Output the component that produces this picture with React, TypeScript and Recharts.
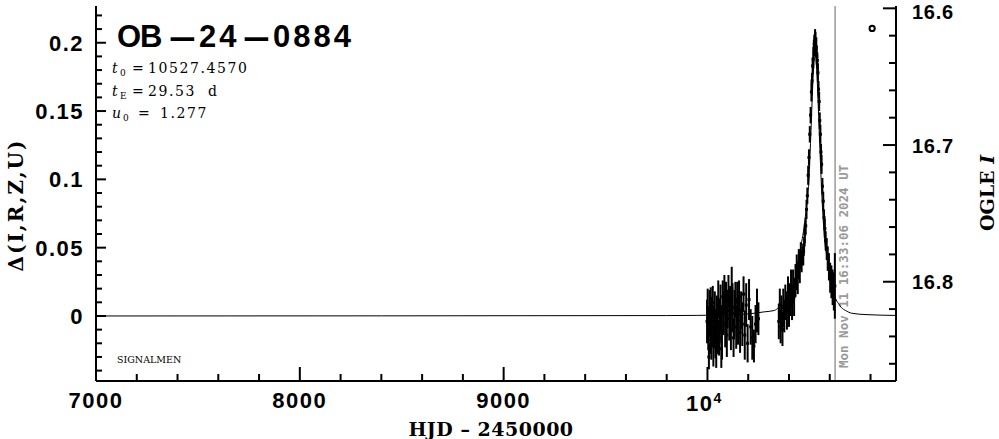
import React from 'react';
import { ComposedChart, Line, Scatter, ErrorBar, XAxis, YAxis, ReferenceLine } from 'recharts';

// ---------- axis ticks ----------
const xTicks = [7000, 7200, 7400, 7600, 7800, 8000, 8200, 8400, 8600, 8800, 9000, 9200, 9400, 9600, 9800, 10000, 10200, 10400, 10600, 10800];
const leftTicks = [-0.04, -0.03, -0.02, -0.01, 0, 0.01, 0.02, 0.03, 0.04, 0.05, 0.06, 0.07, 0.08, 0.09, 0.1, 0.11, 0.12, 0.13, 0.14, 0.15, 0.16, 0.17, 0.18, 0.19, 0.2, 0.21, 0.22];
const leftLabels: Record<string, string> = { '0': '0', '0.05': '0.05', '0.1': '0.1', '0.15': '0.15', '0.2': '0.2' };
const rightTicks = [16.6, 16.62, 16.64, 16.66, 16.68, 16.7, 16.72, 16.74, 16.76, 16.78, 16.8, 16.82, 16.84, 16.86];
const rightLabels: Record<string, string> = { '16.6': '16.6', '16.7': '16.7', '16.8': '16.8' };
const bottomLabels: Record<string, string> = { '7000': '7000', '8000': '8000', '9000': '9000' };

// ---------- model curve ----------
const modelT = [7000, 9800, 10100, 10128, 10200, 10278, 10328, 10348, 10378, 10398, 10418, 10428, 10438, 10448, 10458, 10468, 10478, 10483, 10488, 10493, 10498, 10503, 10508, 10513, 10518, 10523, 10528, 10533, 10538, 10543, 10548, 10553, 10558, 10563, 10568, 10573, 10578, 10588, 10598, 10608, 10618, 10628, 10643, 10658, 10678, 10708, 10778, 10925];
const modelD = [0, 0.0003, 0.0008, 0.001, 0.0015, 0.003, 0.004, 0.006, 0.009, 0.013, 0.018, 0.024, 0.032, 0.043, 0.051, 0.059, 0.07, 0.076, 0.083, 0.09, 0.099, 0.117, 0.136, 0.156, 0.174, 0.188, 0.2, 0.188, 0.174, 0.156, 0.136, 0.117, 0.099, 0.083, 0.07, 0.059, 0.051, 0.043, 0.032, 0.024, 0.018, 0.013, 0.009, 0.006, 0.004, 0.002, 0.001, 0.0004];

// ---------- photometry ----------
const obsT = [
  9998, 10001, 10004, 10007, 10010, 10013, 10016, 10019, 10022, 10026, 10029, 10032, 10036, 10039, 10043, 10046, 10050, 10053, 10057, 10060,
  10064, 10068, 10071, 10075, 10079, 10083, 10087, 10091, 10095, 10099, 10103, 10107, 10111, 10115, 10119, 10123, 10128, 10132, 10137, 10141,
  10146, 10150, 10155, 10160, 10165, 10171, 10177, 10183, 10190, 10197, 10204, 10212, 10220, 10228, 10236, 10243, 10250,
  10350, 10355, 10359, 10363, 10368, 10372, 10377, 10382, 10390, 10395, 10400, 10405, 10410, 10415, 10420, 10425, 10432, 10438, 10443, 10448, 10453, 10458,
  10462, 10466, 10470, 10474, 10478, 10482, 10486, 10490, 10494, 10498, 10502, 10506, 10510, 10513, 10516, 10519, 10522, 10524, 10526, 10528,
  10530, 10532, 10534, 10536, 10539, 10542, 10545, 10548, 10551, 10554, 10557, 10560, 10564, 10568, 10572, 10576, 10580, 10585, 10590, 10596,
  10602, 10608, 10614, 10620, 10625,
];
const obsD = [
  -0.004, 0.006, -0.01, -0.03, 0.002, -0.012, 0.008, -0.018, -0.004, 0.01, -0.022, -0.008, 0.004, -0.014, -0.026, 0.0, -0.01, 0.012, -0.016, -0.004,
  0.006, -0.024, -0.012, 0.014, 0.002, 0.016, -0.006, 0.01, -0.014, 0.004, 0.018, -0.002, 0.008, -0.01, 0.02, 0.006, -0.016, 0.002, 0.012, -0.008,
  0.01, -0.004, 0.014, -0.012, 0.004, -0.006, 0.016, -0.014, 0.008, -0.02, 0.012, -0.008, -0.016, -0.022, -0.006, 0.004, -0.002,
  -0.004, 0.008, -0.008, 0.002, -0.01, 0.006, 0.0, 0.01, 0.004, 0.016, 0.006, 0.012, 0.02, 0.01, 0.022, 0.014, 0.026, 0.032, 0.028, 0.038, 0.036, 0.044,
  0.04, 0.044, 0.045, 0.052, 0.06, 0.066, 0.078, 0.088, 0.103, 0.116, 0.133, 0.147, 0.164, 0.172, 0.183, 0.188, 0.196, 0.199, 0.197, 0.202,
  0.201, 0.196, 0.197, 0.19, 0.187, 0.178, 0.166, 0.157, 0.143, 0.133, 0.12, 0.111, 0.095, 0.084, 0.072, 0.064, 0.055, 0.049, 0.042, 0.036,
  0.028, 0.025, 0.021, 0.018, 0.022,
];
const obsE = [
  0.016, 0.014, 0.015, 0.009, 0.017, 0.016, 0.013, 0.014, 0.018, 0.012, 0.015, 0.016, 0.014, 0.017, 0.012, 0.015, 0.018, 0.014, 0.013, 0.016,
  0.017, 0.014, 0.02, 0.012, 0.016, 0.014, 0.017, 0.015, 0.016, 0.013, 0.012, 0.016, 0.014, 0.015, 0.016, 0.018, 0.014, 0.017, 0.013, 0.016,
  0.015, 0.017, 0.012, 0.015, 0.014, 0.016, 0.013, 0.018, 0.016, 0.014, 0.015, 0.013, 0.016, 0.012, 0.014, 0.016, 0.012,
  0.013, 0.012, 0.012, 0.013, 0.012, 0.014, 0.012, 0.013, 0.014, 0.013, 0.014, 0.012, 0.014, 0.013, 0.012, 0.014, 0.012, 0.013, 0.012, 0.011, 0.012, 0.01,
  0.008, 0.007, 0.008, 0.006, 0.007, 0.006, 0.007, 0.006, 0.007, 0.006, 0.006, 0.006, 0.007, 0.006, 0.006, 0.007, 0.006, 0.007, 0.006, 0.008,
  0.007, 0.006, 0.007, 0.006, 0.006, 0.007, 0.006, 0.007, 0.006, 0.007, 0.006, 0.007, 0.006, 0.007, 0.006, 0.007, 0.007, 0.008, 0.009, 0.01,
  0.011, 0.012, 0.013, 0.014, 0.024,
];

// legend-like marker in the upper right corner
const markerT = [10808];
const markerD = [0.2105];

// time of this plot
const nowT = 10626.19;
const nowLabel = 'Mon Nov 11 16:33:06 2024 UT';

const modelData = modelT.map((t, i) => ({ t, d: modelD[i] }));
const obsData = obsT.map((t, i) => ({ t, v: obsD[i], e: obsE[i] }));
const markerData = markerT.map((t, i) => ({ t, m: markerD[i] }));

const TICK_FONT = "'Liberation Sans', Arial, sans-serif";
const SERIF = "'DejaVu Serif', serif";

const key = (v: number) => String(Math.round(v * 1000) / 1000);

const BottomTick = (p: any) => {
  const { x, y, payload } = p;
  const v = payload.value;
  const major = Math.abs(v % 1000) < 1e-6;
  return (
    <g>
      <line x1={x} x2={x} y1={y} y2={y - (major ? 14 : 7)} stroke="#000" strokeWidth={2} />
      {bottomLabels[key(v)] && (
        <text x={x} y={y + 27} textAnchor="middle" fontFamily={TICK_FONT} fontWeight="bold" fontSize={22} letterSpacing={1.5} fill="#000">
          {bottomLabels[key(v)]}
        </text>
      )}
      {v === 10000 && (
        <text x={x - 3} y={y + 30} textAnchor="middle" fontFamily={TICK_FONT} fontWeight="bold" fontSize={22} letterSpacing={1.5} fill="#000">
          10<tspan fontSize={14} dy={-8}>4</tspan>
        </text>
      )}
    </g>
  );
};

const TopTick = (p: any) => {
  const { x, y, payload } = p;
  const major = Math.abs(payload.value % 1000) < 1e-6;
  return <line x1={x} x2={x} y1={y} y2={y + (major ? 13 : 8)} stroke="#000" strokeWidth={2} />;
};

const LeftTick = (p: any) => {
  const { x, y, payload } = p;
  const lab = leftLabels[key(payload.value)];
  return (
    <g>
      <line x1={x} x2={x + (lab ? 10 : 6)} y1={y} y2={y} stroke="#000" strokeWidth={2} />
      {lab && (
        <text x={x - 12} y={y + 8} textAnchor="end" fontFamily={TICK_FONT} fontWeight="bold" fontSize={22} letterSpacing={1.5} fill="#000">
          {lab}
        </text>
      )}
    </g>
  );
};

const RightTick = (p: any) => {
  const { x, y, payload } = p;
  const k = key(payload.value);
  const lab = rightLabels[k];
  const off = k === '16.6' ? 10.5 : 7.5;
  return (
    <g>
      <line x1={x} x2={x - (lab ? 13 : 7)} y1={y} y2={y} stroke="#000" strokeWidth={2} />
      {lab && (
        <text x={x + 16} y={y + off} textAnchor="start" fontFamily={TICK_FONT} fontWeight="bold" fontSize={20} letterSpacing={0.7} fill="#000">
          {lab}
        </text>
      )}
    </g>
  );
};

const PointShape = (p: any) => {
  const { cx, cy } = p;
  if (cx == null || cy == null) return null;
  return <rect x={cx - 1.5} y={cy - 1.5} width={3} height={3} fill="#000" />;
};

const MarkerShape = (p: any) => {
  const { cx, cy } = p;
  if (cx == null || cy == null) return null;
  return <circle cx={cx} cy={cy} r={2.6} fill="#fff" stroke="#000" strokeWidth={2} />;
};

const NowLabel = (p: any) => {
  const vb = p.viewBox || {};
  const x = vb.x ?? 0;
  const y = (vb.y ?? 0) + (vb.height ?? 0);
  return (
    <text
      x={x + 8}
      y={y - 13}
      transform={`rotate(-90 ${x + 8} ${y - 13})`}
      dominantBaseline="central"
      fontFamily="'DejaVu Sans Mono', monospace"
      fontWeight="bold"
      fontSize={12.5}
      fill="#999"
    >
      {nowLabel}
    </text>
  );
};

export default function App() {
  return (
    <div style={{ position: 'absolute', left: 0, top: 0, width: 999, height: 439, background: '#fff' }}>
      <ComposedChart width={999} height={439} margin={{ top: 6, right: 0, bottom: 0, left: 0 }}>
        <XAxis
          xAxisId="b"
          dataKey="t"
          type="number"
          domain={[7000, 10925]}
          allowDataOverflow
          ticks={xTicks}
          interval={0}
          height={58}
          tickSize={0}
          tickMargin={0}
          tickLine={false}
          tick={<BottomTick />}
          axisLine={{ stroke: '#000', strokeWidth: 2 }}
        />
        <XAxis
          xAxisId="top"
          orientation="top"
          dataKey="t"
          type="number"
          domain={[7000, 10925]}
          allowDataOverflow
          ticks={xTicks}
          interval={0}
          height={0}
          tickSize={0}
          tickMargin={0}
          tickLine={false}
          tick={<TopTick />}
          axisLine={{ stroke: '#000', strokeWidth: 2 }}
        />
        <YAxis
          yAxisId="l"
          type="number"
          domain={[-0.0476, 0.2269]}
          allowDataOverflow
          ticks={leftTicks}
          interval={0}
          width={96}
          tickSize={0}
          tickMargin={0}
          tickLine={false}
          tick={<LeftTick />}
          axisLine={{ stroke: '#000', strokeWidth: 2 }}
        />
        <YAxis
          yAxisId="r"
          orientation="right"
          type="number"
          domain={[16.5983, 16.8726]}
          reversed
          allowDataOverflow
          ticks={rightTicks}
          interval={0}
          width={103}
          tickSize={0}
          tickMargin={0}
          tickLine={false}
          tick={<RightTick />}
          axisLine={{ stroke: '#000', strokeWidth: 2 }}
        />
        <ReferenceLine xAxisId="b" yAxisId="l" x={nowT} stroke="#999" strokeWidth={1.5} label={<NowLabel />} />
        <Line
          xAxisId="b"
          yAxisId="l"
          data={modelData}
          dataKey="d"
          type="monotone"
          dot={false}
          stroke="#000"
          strokeWidth={1}
          isAnimationActive={false}
        />
        <Scatter xAxisId="b" yAxisId="l" data={obsData} dataKey="v" shape={<PointShape />} isAnimationActive={false}>
          <ErrorBar dataKey="e" direction="y" width={0} stroke="#000" strokeWidth={2} isAnimationActive={false} />
        </Scatter>
        <Scatter xAxisId="top" yAxisId="l" data={markerData} dataKey="m" shape={<MarkerShape />} isAnimationActive={false} />
      </ComposedChart>
      <svg width={999} height={439} style={{ position: 'absolute', left: 0, top: 0, pointerEvents: 'none' }}>
        <text y={47} fontFamily={TICK_FONT} fontWeight="bold" fontSize={31} fill="#000">
          <tspan x={117} letterSpacing={-1}>OB</tspan>
          <tspan x={167} textLength={31} lengthAdjust="spacingAndGlyphs">-</tspan>
          <tspan x={199} letterSpacing={3}>24</tspan>
          <tspan x={241} textLength={31} lengthAdjust="spacingAndGlyphs">-</tspan>
          <tspan x={273} letterSpacing={3}>0884</tspan>
        </text>
        <g fontFamily={SERIF} fontSize={14} fill="#000">
          <text x={112} y={73}>
            <tspan fontStyle="italic">t</tspan>
            <tspan x={120} dy={3} fontSize={9}>0</tspan>
            <tspan x={132} dy={-3}>=</tspan>
            <tspan x={148} letterSpacing={1.6}>10527.4570</tspan>
          </text>
          <text x={112} y={96}>
            <tspan fontStyle="italic">t</tspan>
            <tspan x={120} dy={3} fontSize={9}>E</tspan>
            <tspan x={132} dy={-3}>=</tspan>
            <tspan x={148} letterSpacing={1.6}>29.53</tspan>
            <tspan x={208}>d</tspan>
          </text>
          <text x={112} y={118}>
            <tspan fontStyle="italic">u</tspan>
            <tspan x={123} dy={3} fontSize={9}>0</tspan>
            <tspan x={138} dy={-3}>=</tspan>
            <tspan x={160} letterSpacing={1.6}>1.277</tspan>
          </text>
        </g>
        <text x={117} y={363} fontFamily={SERIF} fontSize={9.5} fill="#000">SIGNALMEN</text>
        <text x={491} y={436} textAnchor="middle" fontFamily={SERIF} fontWeight="bold" fontSize={19} fill="#000" letterSpacing={0.5}>
          HJD – 2450000
        </text>
        <text
          x={16}
          y={205}
          transform="rotate(-90 16 205)"
          textAnchor="middle"
          dominantBaseline="central"
          fontFamily={SERIF}
          fontWeight="bold"
          fontSize={20}
          letterSpacing={2}
          fill="#000"
        >
          Δ(I,R,Z,U)
        </text>
        <text
          x={987}
          y={193}
          transform="rotate(-90 987 193)"
          textAnchor="middle"
          dominantBaseline="central"
          fontFamily={SERIF}
          fontWeight="bold"
          fontSize={19}
          fill="#000"
        >
          OGLE <tspan fontStyle="italic">I</tspan>
        </text>
      </svg>
    </div>
  );
}
